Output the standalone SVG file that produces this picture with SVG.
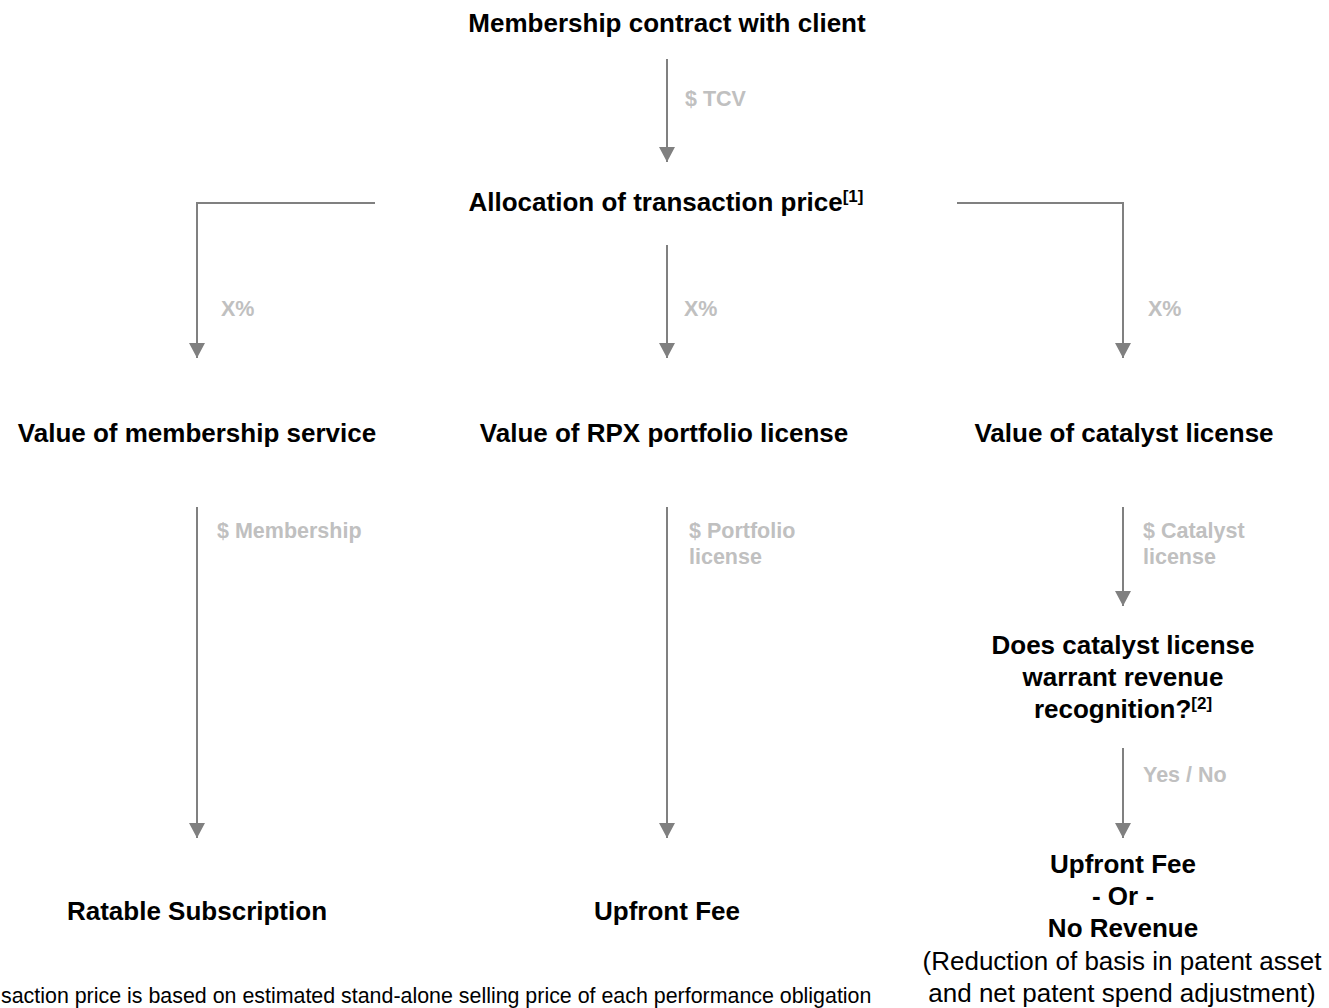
<svg xmlns="http://www.w3.org/2000/svg" width="1329" height="1008" viewBox="0 0 1329 1008">
<defs>
<style>
text{font-family:"Liberation Sans",Arial,sans-serif}
.node{font-size:26px;font-weight:bold;fill:#000;text-anchor:middle}
.reg{font-size:26px;fill:#000;text-anchor:middle}
.lbl{font-size:21.5px;font-weight:bold;fill:#c0c0c0}
.sup{font-size:17px;font-weight:bold}
.conn{fill:none;stroke:#808080;stroke-width:2}
.foot{font-size:21.4px;fill:#000}
</style>
<marker id="ah" markerUnits="userSpaceOnUse" markerWidth="16" markerHeight="16" refX="15" refY="8" orient="auto">
<path d="M0,0 L15,8 L0,16 z" fill="#808080"/>
</marker>
</defs>
<rect width="1329" height="1008" fill="#fff"/>
<g id="connectors">
<path class="conn" d="M667,59 V162" marker-end="url(#ah)"/>
<path class="conn" d="M375,203 H197 V358" marker-end="url(#ah)"/>
<path class="conn" d="M667,245 V358" marker-end="url(#ah)"/>
<path class="conn" d="M957,203 H1123 V358" marker-end="url(#ah)"/>
<path class="conn" d="M197,507 V838" marker-end="url(#ah)"/>
<path class="conn" d="M667,507 V838" marker-end="url(#ah)"/>
<path class="conn" d="M1123,507 V606" marker-end="url(#ah)"/>
<path class="conn" d="M1123,748 V838" marker-end="url(#ah)"/>
<text class="lbl" x="685" y="106">$ TCV</text>
<text class="lbl" x="221" y="316">X%</text>
<text class="lbl" x="684" y="316">X%</text>
<text class="lbl" x="1148" y="316">X%</text>
<text class="lbl" x="217" y="538">$ Membership</text>
<text class="lbl" x="689" y="538">$ Portfolio</text>
<text class="lbl" x="689" y="564">license</text>
<text class="lbl" x="1143" y="538">$ Catalyst</text>
<text class="lbl" x="1143" y="564">license</text>
<text class="lbl" x="1143" y="782">Yes / No</text>
</g>
<g id="contract"><text class="node" x="667" y="32">Membership contract with client</text></g>
<g id="allocation"><text class="node" x="666" y="211">Allocation of transaction price<tspan class="sup" dy="-9">[1]</tspan></text></g>
<g id="membership-value"><text class="node" x="197" y="442">Value of membership service</text></g>
<g id="portfolio-value"><text class="node" x="664" y="442">Value of RPX portfolio license</text></g>
<g id="catalyst-value"><text class="node" x="1124" y="442">Value of catalyst license</text></g>
<g id="catalyst-question">
<text class="node" x="1123" y="654">Does catalyst license</text>
<text class="node" x="1123" y="686">warrant revenue</text>
<text class="node" x="1123" y="718">recognition?<tspan class="sup" dy="-9">[2]</tspan></text>
</g>
<g id="ratable"><text class="node" x="197" y="920">Ratable Subscription</text></g>
<g id="upfront"><text class="node" x="667" y="920">Upfront Fee</text></g>
<g id="catalyst-outcome">
<text class="node" x="1123" y="873">Upfront Fee</text>
<text class="node" x="1123" y="905">- Or -</text>
<text class="node" x="1123" y="937">No Revenue</text>
<text class="reg" x="1122" y="970">(Reduction of basis in patent asset</text>
<text class="reg" x="1122" y="1002">and net patent spend adjustment)</text>
</g>
<g id="footnote"><text class="foot" x="1" y="1003">saction price is based on estimated stand-alone selling price of each performance obligation</text></g>
</svg>
